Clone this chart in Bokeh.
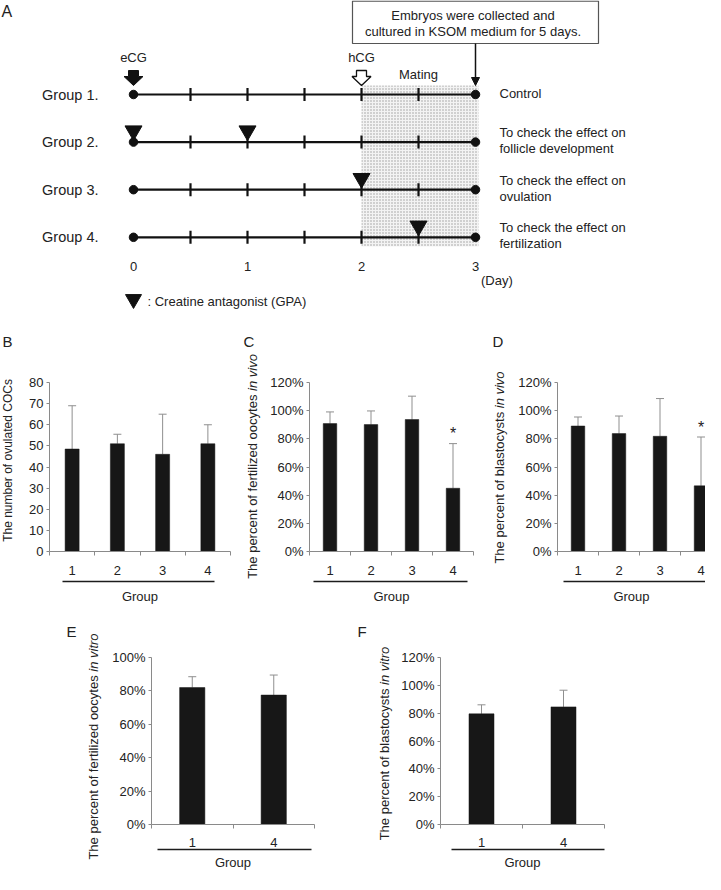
from math import pi
from bokeh.plotting import figure
from bokeh.layouts import column, row
from bokeh.models import (Range1d, LinearAxis, FixedTicker, PrintfTickFormatter,
                          ColumnDataSource, Whisker, TeeHead, Label, Arrow, NormalHead)
from bokeh.core.properties import value
from bokeh.embed import file_html
from bokeh.resources import INLINE

FONT = "Liberation Sans"
INK = "#111111"
AXIS = "#8a8a8a"
ERR = "#8f8f8f"
BAR = "#171717"
TXT = "#222222"

# ---------------- data ----------------
# Panel A: experimental schedule
group_rows = [1, 2, 3, 4]
group_names = ["Group 1.", "Group 2.", "Group 3.", "Group 4."]
note_line1 = ["Control", "To check the effect on", "To check the effect on", "To check the effect on"]
note_line2 = ["", "follicle development", "ovulation", "fertilization"]
tick_days = [0.5, 1, 1.5, 2, 2.5]
start_day = 0
end_day = 3
day_labels = ["0", "1", "2", "3"]
gpa_group = [2, 2, 3, 4]
gpa_day = [0, 1, 2, 2.5]
ecg_day = 0
hcg_day = 2
mating_start, mating_end = 2, 3
collect_day = 3
box_lines = ["Embryos were collected and", "cultured in KSOM medium for 5 days."]
legend_text = ": Creatine antagonist (GPA)"

# Panels B-F
groups_bcd = ["1", "2", "3", "4"]
cocs_mean = [48.5, 51, 46, 51]
cocs_upper = [69, 55.5, 65, 60]
fert_vivo_mean = [90.8, 90.1, 93.7, 44.9]
fert_vivo_upper = [99.1, 99.8, 110.3, 76.6]
fert_vivo_sig = [False, False, False, True]
blast_vivo_mean = [89.1, 83.7, 81.8, 46.6]
blast_vivo_upper = [95.5, 96.2, 108.6, 81.3]
blast_vivo_sig = [False, False, False, True]
groups_ef = ["1", "4"]
fert_vitro_mean = [82, 77.5]
fert_vitro_upper = [88.5, 89.5]
blast_vitro_mean = [79.5, 84.5]
blast_vitro_upper = [86, 96.5]

# ---------------- panel A ----------------
W = 705
A_H = 330
PX_DAY = 114.0
ROW_PX = 47.6


def ry(page_y):
    return 1 + (page_y - 94) / ROW_PX


def dx(px):
    return px / PX_DAY


def dy(px):
    return px / ROW_PX


xa0 = -133 / PX_DAY
pa = figure(width=W, height=A_H, x_range=Range1d(xa0, xa0 + W / PX_DAY),
            y_range=Range1d(ry(A_H), ry(0)), x_axis_type=None, y_axis_type=None,
            title=None, toolbar_location=None, output_backend="svg", min_border=0,
            frame_align=False)
pa.outline_line_color = None
pa.background_fill_color = "white"
pa.border_fill_color = "white"


def atext(x, y, text, size="13px", align="center", baseline="middle",
          x_offset=0, y_offset=0, style="normal"):
    pa.text(x=x, y=y, text=text, x_offset=x_offset, y_offset=y_offset,
            text_font=value(FONT), text_font_size=value(size), text_align=align,
            text_baseline=baseline, text_color=TXT, text_font_style=style)


# mating period shading
pa.quad(left=mating_start, right=mating_end + dx(3), top=ry(85), bottom=ry(246),
        fill_color="#f3f3f3", line_color=None, hatch_pattern="dot",
        hatch_color="#9a9a9a", hatch_scale=3, hatch_weight=1)

# group time lines
pa.segment(x0=[start_day] * 4, y0=group_rows, x1=[end_day] * 4, y1=group_rows,
           line_width=2.2, line_color=INK)
tx = [d for r in group_rows for d in tick_days]
ty = [r for r in group_rows for d in tick_days]
pa.scatter(x=tx, y=ty, marker="dash", size=13, angle=pi / 2, line_width=2.2,
           line_color=INK)
pa.scatter(x=[start_day] * 4 + [end_day] * 4, y=group_rows + group_rows,
           marker="circle", size=8.5, fill_color=INK, line_color=INK)

# GPA injections
tri_off = dy(11.3)
pa.scatter(x=gpa_day, y=[g - tri_off for g in gpa_group], marker="inverted_triangle",
           size=17, fill_color=INK, line_color=INK)

# labels
atext([start_day] * 4, group_rows, group_names, size="14.5px", align="right", x_offset=-35)
atext([end_day] * 4, group_rows, note_line1, align="left", x_offset=24,
      y_offset=[(-9.5 if l2 else -1) for l2 in note_line2])
atext([end_day] * 4, group_rows, note_line2, align="left", x_offset=24, y_offset=6.5)

# hormone arrows
arrow_shape = [(-5, -24), (5, -24), (5, -18), (9.5, -18), (0, -9), (-9.5, -18), (-5, -18)]
pa.patch([ecg_day + dx(a) for a, b in arrow_shape], [1 + dy(b) for a, b in arrow_shape],
         fill_color=INK, line_color=INK, line_width=1)
pa.patch([hcg_day + dx(a) for a, b in arrow_shape], [1 + dy(b) for a, b in arrow_shape],
         fill_color="white", line_color=INK, line_width=1.3)
atext([ecg_day], [1], ["eCG"], y_offset=-37)
atext([hcg_day], [1], ["hCG"], y_offset=-37)
atext([(mating_start + mating_end) / 2], [1], ["Mating"], y_offset=-20)

# collection box + arrow
pa.quad(left=collect_day - dx(123), right=collect_day + dx(123), top=ry(0.6), bottom=ry(43),
        fill_color="white", line_color="#555555", line_width=1.2)
atext([collect_day, collect_day], [ry(15), ry(31)], box_lines, x_offset=-2.5)
pa.add_layout(Arrow(x_start=collect_day, y_start=ry(43), x_end=collect_day, y_end=ry(85),
                    line_width=1.5, line_color=INK,
                    end=NormalHead(size=8, fill_color=INK, line_color=INK)))

# day axis labels
atext([float(s) for s in day_labels], [4] * len(day_labels), day_labels, y_offset=29)
atext([end_day], [4], ["(Day)"], align="left", x_offset=5.5, y_offset=43)

# legend
pa.scatter(x=[start_day], y=[ry(298.7)], marker="inverted_triangle", size=16,
           fill_color=INK, line_color=INK)
atext([start_day], [ry(301)], [legend_text], align="left", x_offset=14)

pa.add_layout(Label(x=1, y=A_H - 2, x_units="screen", y_units="screen", text="A",
                    text_baseline="top", text_align="left", text_font=FONT,
                    text_font_size="16px", text_color=TXT))

# ---------------- bar panels ----------------
W_ARIAL = {' ': 278, 'T': 611, 'h': 556, 'e': 556, 'p': 556, 'r': 333, 'c': 500,
           'n': 556, 't': 278, 'o': 556, 'f': 278, 'i': 222, 'l': 222, 'z': 500,
           'd': 556, 'y': 500, 's': 500, 'v': 500, 'b': 556, 'a': 556, 'u': 556,
           'm': 833, 'C': 722, 'O': 778}


def tw(s, fs):
    return sum(W_ARIAL.get(ch, 556) for ch in s) / 1000.0 * fs


def label_fig(width, height, letter, letter_x, letter_top, ylab_norm, ylab_ital,
              fs, cx, center_from_top):
    p = figure(width=width, height=height, x_range=Range1d(0, width),
               y_range=Range1d(0, height), x_axis_type=None, y_axis_type=None,
               title=None, toolbar_location=None, output_backend="svg", min_border=0,
               frame_align=False)
    p.outline_line_color = None
    p.background_fill_color = "white"
    p.border_fill_color = "white"
    total = tw(ylab_norm, fs)
    if ylab_ital:
        total += tw(" ", fs) + tw(ylab_ital, fs)
    y0 = height - center_from_top - total / 2
    p.text(x=[cx], y=[y0], text=[ylab_norm], angle=pi / 2, text_align="left",
           text_baseline="middle", text_font=value(FONT), text_font_size=value(f"{fs}px"),
           text_color=TXT)
    if ylab_ital:
        y1 = y0 + tw(ylab_norm, fs) + tw(" ", fs)
        p.text(x=[cx], y=[y1], text=[ylab_ital], angle=pi / 2, text_align="left",
               text_baseline="middle", text_font=value(FONT), text_font_style="italic",
               text_font_size=value(f"{fs}px"), text_color=TXT)
    p.text(x=[letter_x], y=[height - letter_top], text=[letter], text_align="left",
           text_baseline="top", text_font=value(FONT), text_font_size=value("15px"),
           text_color=TXT)
    return p


def bar_panel(cats, means, uppers, sig, y_max, y_step, pct,
              width, height, fl, fw, ft, fh, x_end, underline, bar_w,
              tick_standoff, spacer, group_standoff):
    n = len(cats)
    xs = list(range(1, n + 1))
    p = figure(width=width, height=height, x_range=Range1d(0.5, x_end),
               y_range=Range1d(0, y_max), x_axis_type=None, y_axis_type=None,
               title=None, toolbar_location=None, output_backend="svg",
               min_border_left=fl, min_border_right=width - fl - fw,
               min_border_top=ft, min_border_bottom=height - ft - fh,
               frame_align=False)
    p.outline_line_color = None
    p.background_fill_color = "white"
    p.border_fill_color = "white"

    yax = LinearAxis(ticker=FixedTicker(ticks=list(range(0, y_max + 1, y_step))),
                     formatter=PrintfTickFormatter(format="%d%%" if pct else "%d"),
                     major_tick_out=3, major_tick_in=0, minor_tick_line_color=None,
                     axis_line_color=AXIS, major_tick_line_color=AXIS,
                     major_label_standoff=3, major_label_text_font=FONT,
                     major_label_text_font_size="13px", major_label_text_color=TXT)
    p.add_layout(yax, "left")

    xkw = dict(ticker=FixedTicker(ticks=xs, minor_ticks=[i + 0.5 for i in range(n + 1)]),
               major_label_overrides={x: c for x, c in zip(xs, cats)},
               major_tick_out=4, major_tick_in=0, major_tick_line_color=None,
               minor_tick_out=4, minor_tick_in=0, minor_tick_line_color=AXIS,
               axis_line_color=AXIS, major_label_standoff=tick_standoff,
               major_label_text_font=FONT, major_label_text_font_size="13px",
               major_label_text_color=TXT)
    if spacer:
        xkw.update(axis_label=" ", axis_label_standoff=0, axis_label_text_font_size="1px")
    p.add_layout(LinearAxis(**xkw), "below")

    gax = LinearAxis(ticker=FixedTicker(ticks=[]), bounds=underline,
                     major_tick_out=0, major_tick_in=0, major_label_standoff=0,
                     major_tick_line_color=None, minor_tick_line_color=None,
                     axis_line_color="#1c1c1c", axis_line_width=1.6,
                     axis_label="Group", axis_label_standoff=group_standoff,
                     axis_label_text_font_style="normal", axis_label_text_font=FONT,
                     axis_label_text_font_size="13px", axis_label_text_color=TXT)
    p.add_layout(gax, "below")

    src = ColumnDataSource(dict(x=xs, mean=means, upper=uppers))
    p.add_layout(Whisker(source=src, base="x", lower="mean", upper="upper",
                         dimension="height", line_color=ERR, line_width=1,
                         upper_head=TeeHead(size=8, line_color=ERR, line_width=1),
                         lower_head=None))
    p.vbar(x="x", top="mean", bottom=0, width=bar_w, source=src,
           fill_color=BAR, line_color=BAR, line_width=0.5)

    if sig is not None and any(sig):
        sx = [x for x, s in zip(xs, sig) if s]
        sy = [u for u, s in zip(uppers, sig) if s]
        p.text(x=sx, y=sy, text=["*"] * len(sx), y_offset=-10,
               text_font=value(FONT), text_font_size=value("16px"),
               text_align="center", text_baseline="alphabetic", text_color=TXT)
    return p


R2 = 280
lb = label_fig(22, R2, "B", 2, 2, "The number of ovulated COCs", "", 12, 7.5, 130)
pb = bar_panel(groups_bcd, cocs_mean, cocs_upper, None, 80, 10, False,
               218, R2, 27, 181, 52, 169, 4.5, (0.78, 4.15), 0.31, 10, True, 7)
lc = label_fig(22, R2, "C", 3, 2, "The percent of fertilized oocytes", "in vivo", 13, 12, 136)
pc = bar_panel(groups_bcd, fert_vivo_mean, fert_vivo_upper, fert_vivo_sig, 120, 20, True,
               218, R2, 47, 164, 52, 169, 4.5, (0.6, 4.35), 0.33, 10, True, 7)
ld = label_fig(30, R2, "D", 12, 2, "The percent of blastocysts", "in vivo", 13, 19, 137)
pd_ = bar_panel(groups_bcd, blast_vivo_mean, blast_vivo_upper, blast_vivo_sig, 120, 20, True,
                195, R2, 47, 148, 52, 169, 0.5 + 148 / 41.0,
                (0.65, 0.5 + 148 / 41.0), 0.33, 10, True, 7)

R3 = 264
le = label_fig(106, R3, "E", 66, 12, "The percent of fertilized oocytes", "in vitro", 13, 92.5, 136)
pe = bar_panel(groups_ef, fert_vitro_mean, fert_vitro_upper, None, 100, 20, True,
               248, R3, 45, 163, 47, 167, 2.5, (0.57, 2.46), 0.31, 9, False, 5)
lf = label_fig(42, R3, "F", 3, 12, "The percent of blastocysts", "in vitro", 13, 30, 133)
pf = bar_panel(groups_ef, blast_vitro_mean, blast_vitro_upper, None, 120, 20, True,
               309, R3, 44, 164, 47, 167, 2.5, (0.63, 2.5), 0.305, 9, False, 5)

layout = column(pa, row(lb, pb, lc, pc, ld, pd_), row(le, pe, lf, pf))
open("out.html", "w").write(file_html(layout, INLINE))
